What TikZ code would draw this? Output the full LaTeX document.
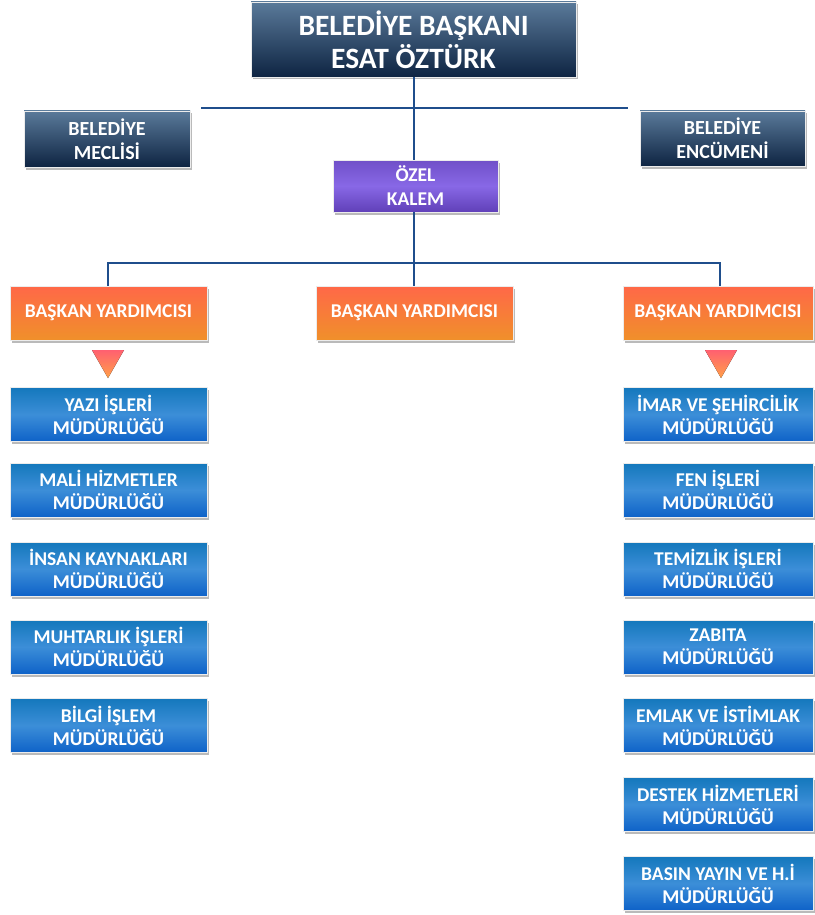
\documentclass[tikz,border=0pt]{standalone}
\usepackage{fontspec}
\setmainfont{Carlito}
\usetikzlibrary{shadows}
\definecolor{navyT}{HTML}{5A7A9A}
\definecolor{navyB}{HTML}{0E2442}
\definecolor{orT}{HTML}{FF6848}
\definecolor{orB}{HTML}{F0902A}
\definecolor{blT}{HTML}{1478BC}
\definecolor{blM}{HTML}{3C8ED8}
\definecolor{blB}{HTML}{0E62C8}
\definecolor{puT}{HTML}{7050C8}
\definecolor{puM}{HTML}{8868E6}
\definecolor{puB}{HTML}{6040B8}
\definecolor{lineblue}{HTML}{1F4E8C}
\definecolor{trT}{HTML}{FF6070}
\definecolor{trB}{HTML}{FFA048}
\tikzset{
  box/.style={rectangle, draw=white!85!gray, line width=0.6pt, align=center,
    text=white, font=\bfseries, inner sep=0pt,
    drop shadow={shadow xshift=1.5pt, shadow yshift=-2.5pt, fill=black!45, opacity=0.6}},
  navybox/.style={box, top color=navyT, bottom color=navyB},
  orbox/.style={box, top color=orT, bottom color=orB, minimum width=197pt, minimum height=54pt, font=\bfseries\fontsize{19.5}{23}\selectfont},
  blbox/.style={box, top color=blT, bottom color=blB, middle color=blM, font=\bfseries\fontsize{19.5}{23}\selectfont, minimum height=54pt},
  pubox/.style={box, top color=puT, bottom color=puB, middle color=puM, font=\bfseries\fontsize{19.5}{24}\selectfont},
  conn/.style={draw=lineblue, line width=2.4pt},
  tri/.style={top color=trT, bottom color=trB, draw=none}
}
\begin{document}
\begin{tikzpicture}[x=1pt,y=-1pt]
\useasboundingbox (0,0) rectangle (814,915);
% top
\node[navybox, minimum width=325pt, minimum height=75pt, font=\bfseries\fontsize{29.5}{33}\selectfont] (bb) at (413.5,39.5) {BELEDİYE BAŞKANI\\ESAT ÖZTÜRK};
\node[navybox, minimum width=166pt, minimum height=56pt, font=\bfseries\fontsize{20}{24}\selectfont] (bm) at (107,139) {BELEDİYE\\MECLİSİ};
\node[navybox, minimum width=165pt, minimum height=55pt, font=\bfseries\fontsize{20}{24}\selectfont] (be) at (722.5,138.5) {BELEDİYE\\ENCÜMENİ};
\node[pubox, minimum width=165pt, minimum height=52pt] (ok) at (415.5,186) {ÖZEL\\KALEM};
% connectors top
\coordinate (hl) at (201,108);
\coordinate (hr) at (628,108);
\coordinate (hm) at (414,108);
\draw[conn] (hl) -- (hr);
\draw[conn] (bb.south -| hm) -- (ok.north -| hm);
\coordinate (yl) at (108,263);
\coordinate (yr) at (720,263);
\coordinate (ym) at (414,263);
\draw[conn] (ok.south -| ym) -- (ym);
\draw[conn, line cap=rect] (yl) -- (yr);
% vice mayors
\node[orbox] (y1) at (108.5,313) {BAŞKAN YARDIMCISI};
\node[orbox] (y2) at (414.5,313) {BAŞKAN YARDIMCISI};
\node[orbox, minimum width=190pt] (y3) at (718,313) {BAŞKAN YARDIMCISI};
\draw[conn] (yl) -- (y1.north -| yl);
\draw[conn] (ym) -- (y2.north -| ym);
\draw[conn] (yr) -- (y3.north -| yr);
% triangles
\fill[tri] (92,350) -- (124,350) -- (108,378) -- cycle;
\fill[tri] (705,350) -- (737,350) -- (721,378) -- cycle;
% left departments
\node[blbox, minimum width=197pt] (l1) at (108.5,414.5) {YAZI İŞLERİ\\MÜDÜRLÜĞÜ};
\node[blbox, minimum width=197pt] (l2) at (108.5,490) {MALİ HİZMETLER\\MÜDÜRLÜĞÜ};
\node[blbox, minimum width=197pt] (l3) at (108.5,569) {İNSAN KAYNAKLARI\\MÜDÜRLÜĞÜ};
\node[blbox, minimum width=197pt] (l4) at (108.5,647) {MUHTARLIK İŞLERİ\\MÜDÜRLÜĞÜ};
\node[blbox, minimum width=197pt] (l5) at (108.5,725.5) {BİLGİ İŞLEM\\MÜDÜRLÜĞÜ};
% right departments
\node[blbox, minimum width=190pt] (r1) at (718,414.5) {İMAR VE ŞEHİRCİLİK\\MÜDÜRLÜĞÜ};
\node[blbox, minimum width=190pt] (r2) at (718,490) {FEN İŞLERİ\\MÜDÜRLÜĞÜ};
\node[blbox, minimum width=190pt] (r3) at (718,569) {TEMİZLİK İŞLERİ\\MÜDÜRLÜĞÜ};
\node[blbox, minimum width=190pt] (r4) at (718,647) {ZABITA\\MÜDÜRLÜĞÜ};
\node[blbox, minimum width=190pt] (r5) at (718,725.5) {EMLAK VE İSTİMLAK\\MÜDÜRLÜĞÜ};
\node[blbox, minimum width=190pt] (r6) at (718,804.5) {DESTEK HİZMETLERİ\\MÜDÜRLÜĞÜ};
\node[blbox, minimum width=190pt] (r7) at (718,883.5) {BASIN YAYIN VE H.İ\\MÜDÜRLÜĞÜ};
\end{tikzpicture}
\end{document}
